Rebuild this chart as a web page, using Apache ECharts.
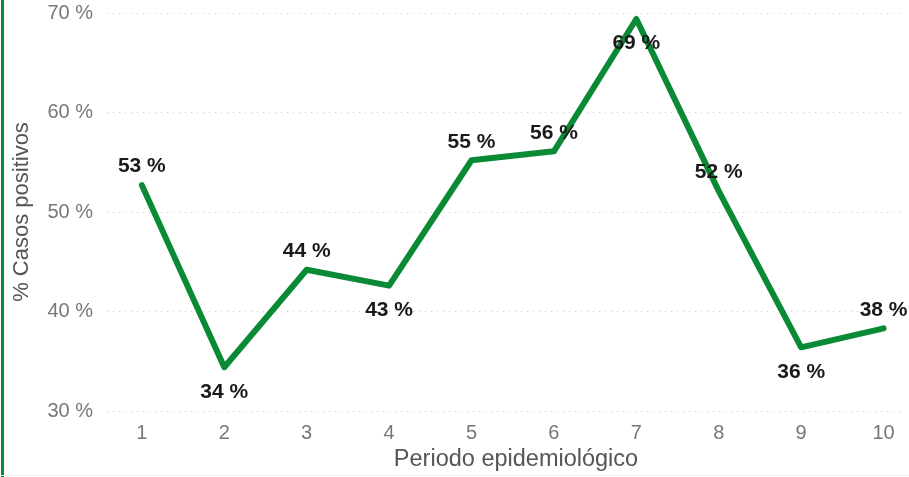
<!DOCTYPE html>
<html>
<head>
<meta charset="utf-8">
<script src="https://cdn.jsdelivr.net/npm/echarts@6/dist/echarts.min.js"></script>
<style>
  html, body { margin: 0; padding: 0; background: #fff; }
  #chart { width: 909px; height: 477px; }
</style>
</head>
<body>
<div id="chart"></div>
<script>
// Periodo epidemiológico y % de casos positivos
const periods = [1, 2, 3, 4, 5, 6, 7, 8, 9, 10];
const positivity = [52.7, 34.4, 44.2, 42.6, 55.2, 56.1, 69.4, 52.1, 36.4, 38.3];
const yTicks = [30, 40, 50, 60, 70];

// etiquetas que van debajo del punto
const labelBelow = [2, 4, 7, 9];

const green = '#0b8a36';
const font = '"Liberation Sans", Arial, sans-serif';

const chart = echarts.init(document.getElementById('chart'));

const seriesData = periods.map(function (p, i) {
    const below = labelBelow.indexOf(p) >= 0;
    return {
        value: [p, positivity[i]],
        label: { position: below ? 'bottom' : 'top', distance: below ? 13 : 7 }
    };
});

const option = {
    animation: false,
    grid: { left: 107, right: 4, top: 13, bottom: 66 },
    graphic: [
        { type: 'rect', left: 1, top: 0, shape: { width: 3, height: 477 }, style: { fill: green } },
        { type: 'rect', left: 0, top: 475, shape: { width: 909, height: 1 }, style: { fill: '#eeeeee' } }
    ],
    xAxis: {
        type: 'value',
        min: 0.577,
        max: 10.26,
        name: 'Periodo epidemiológico',
        nameLocation: 'middle',
        nameGap: 36,
        nameTextStyle: { fontFamily: font, fontSize: 23.5, color: '#555', padding: [0, 0, 0, 20] },
        axisLine: { show: false },
        axisTick: { show: false },
        splitLine: { show: false },
        axisLabel: {
            customValues: periods,
            fontFamily: font,
            fontSize: 20,
            color: '#777',
            margin: 12
        }
    },
    yAxis: {
        type: 'value',
        min: yTicks[0],
        max: yTicks[yTicks.length - 1],
        interval: 10,
        name: '% Casos positivos',
        nameLocation: 'middle',
        nameGap: 74,
        nameTextStyle: { fontFamily: font, fontSize: 22, color: '#555' },
        axisLine: { show: false },
        axisTick: { show: false },
        axisLabel: {
            fontFamily: font,
            fontSize: 20,
            color: '#777',
            margin: 14,
            formatter: function (v) { return v + ' %'; }
        },
        splitLine: {
            lineStyle: { color: '#cccccc', type: [1, 5], width: 1 }
        }
    },
    series: [{
        type: 'line',
        data: seriesData,
        symbol: 'circle',
        symbolSize: 2,
        showSymbol: true,
        itemStyle: { color: 'rgba(0,0,0,0)', borderWidth: 0 },
        lineStyle: { color: green, width: 6, join: 'round', cap: 'round' },
        label: {
            show: true,
            fontFamily: font,
            fontSize: 21,
            fontWeight: 'bold',
            color: '#1a1a1a',
            formatter: function (p) { return Math.round(p.value[1]) + ' %'; }
        }
    }]
};

chart.setOption(option);
</script>
</body>
</html>
